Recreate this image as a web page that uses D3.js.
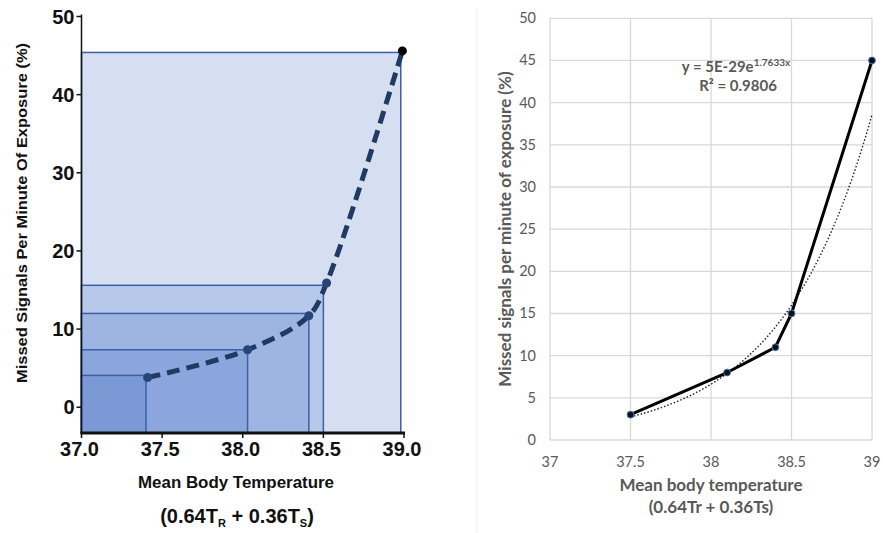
<!doctype html>
<html>
  <head>
    <title>Missed signals vs mean body temperature</title>
    <style>
      body { margin: 0; background: #fff; }
    </style>
  </head>
  <body>
    <svg width='883' height='533'></svg>

  <script src='https://d3js.org/d3.v7.min.js'></script>
  <script>
// Left panel: original figure
var leftTemps = [37.41, 38.03, 38.41, 38.52, 38.99];
var leftSignals = [3.8, 7.35, 11.7, 15.9, 45.6];
// nested shaded boxes, largest first
var boxRight = [38.98, 38.50, 38.41, 38.03, 37.40];
var boxTop = [45.4, 15.6, 12.0, 7.35, 4.07];
var boxFill = ['#d6dff2', '#b7c9eb', '#9fb5e1', '#8ba6dc', '#7a99d5'];
var leftXTicks = [37.0, 37.5, 38.0, 38.5, 39.0];
var leftYTicks = [0, 10, 20, 30, 40, 50];

// Right panel: Excel re-plot
var rightTemps = [37.5, 38.1, 38.4, 38.5, 39];
var rightSignals = [3, 8, 11, 15, 45];
var rightXTicks = [37, 37.5, 38, 38.5, 39];
var rightYTicks = [0, 5, 10, 15, 20, 25, 30, 35, 40, 45, 50];

var svg = d3.select('svg');

// ---------- left panel ----------
var lx = d3.scaleLinear().domain([37, 39]).range([81.5, 404]);
var ly = d3.scaleLinear().domain([-3.3, 50]).range([433, 16.5]);
var left = svg.append('g').attr('font-family', 'Liberation Sans, Arial, sans-serif');

boxRight.forEach(function(r, i) {
  left.append('rect')
    .attr('x', lx(37))
    .attr('y', ly(boxTop[i]))
    .attr('width', lx(r) - lx(37))
    .attr('height', ly(-3.3) - ly(boxTop[i]))
    .attr('fill', boxFill[i])
    .attr('stroke', '#3d5fa6')
    .attr('stroke-width', 1.5);
});

// axes
left.append('line')
  .attr('x1', lx(37)).attr('x2', lx(37))
  .attr('y1', ly(50) - 2).attr('y2', ly(-3.3))
  .attr('stroke', '#111').attr('stroke-width', 1.5);
left.append('line')
  .attr('x1', lx(37) - 1).attr('x2', lx(39) + 1)
  .attr('y1', ly(-3.3)).attr('y2', ly(-3.3))
  .attr('stroke', '#111').attr('stroke-width', 3);

leftYTicks.forEach(function(t) {
  left.append('line')
    .attr('x1', lx(37) - 5).attr('x2', lx(37))
    .attr('y1', ly(t)).attr('y2', ly(t))
    .attr('stroke', '#111').attr('stroke-width', 1.5);
  left.append('text')
    .attr('x', lx(37) - 7).attr('y', ly(t) + 7)
    .attr('text-anchor', 'end')
    .attr('font-size', 20)
    .attr('font-weight', 'bold')
    .attr('fill', '#111')
    .text(t);
});
leftXTicks.forEach(function(t) {
  left.append('line')
    .attr('x1', lx(t)).attr('x2', lx(t))
    .attr('y1', ly(-3.3)).attr('y2', ly(-3.3) + 5)
    .attr('stroke', '#111').attr('stroke-width', 1.5);
  left.append('text')
    .attr('x', lx(t) - 2).attr('y', 456)
    .attr('text-anchor', 'middle')
    .attr('font-size', 20)
    .attr('font-weight', 'bold')
    .attr('fill', '#111')
    .text(t.toFixed(1));
});

// dashed curve
var leftPts = leftTemps.map(function(t, i) { return [t, leftSignals[i]]; });
left.append('path')
  .attr('d', d3.line().x(function(d) { return lx(d[0]); }).y(function(d) { return ly(d[1]); })
    .curve(d3.curveCatmullRom.alpha(0.5))(leftPts))
  .attr('fill', 'none')
  .attr('stroke', '#203a62')
  .attr('stroke-width', 5)
  .attr('stroke-dasharray', '13,7');
left.selectAll('circle.lp').data(leftPts).enter().append('circle')
  .attr('cx', function(d) { return lx(d[0]); })
  .attr('cy', function(d) { return ly(d[1]); })
  .attr('r', 4.5)
  .attr('fill', function(d, i) { return i === leftPts.length - 1 ? '#000' : '#26467a'; });

// titles
left.append('text')
  .attr('transform', 'translate(27,213) rotate(-90)')
  .attr('text-anchor', 'middle')
  .attr('font-size', 15)
  .attr('font-weight', 'bold')
  .attr('fill', '#111')
  .attr('textLength', 340)
  .attr('lengthAdjust', 'spacingAndGlyphs')
  .text('Missed Signals Per Minute Of Exposure (%)');
left.append('text')
  .attr('x', 236).attr('y', 488)
  .attr('text-anchor', 'middle')
  .attr('font-size', 16)
  .attr('font-weight', 'bold')
  .attr('fill', '#111')
  .attr('textLength', 196)
  .attr('lengthAdjust', 'spacingAndGlyphs')
  .text('Mean Body Temperature');
var sub = left.append('text')
  .attr('x', 237).attr('y', 523)
  .attr('text-anchor', 'middle')
  .attr('font-size', 20)
  .attr('font-weight', 'bold')
  .attr('fill', '#111');
sub.append('tspan').text('(0.64T');
sub.append('tspan').attr('font-size', 11).attr('dy', 4).text('R');
sub.append('tspan').attr('dy', -4).text(' + 0.36T');
sub.append('tspan').attr('font-size', 11).attr('dy', 4).text('S');
sub.append('tspan').attr('dy', -4).text(')');

// ---------- right panel ----------
var rx = d3.scaleLinear().domain([37, 39]).range([550, 872]);
var ry = d3.scaleLinear().domain([0, 50]).range([440, 18.3]);
var right = svg.append('g').attr('font-family', 'Lato, Carlito, sans-serif');

right.append('line')
  .attr('x1', 477).attr('x2', 477).attr('y1', 8).attr('y2', 533)
  .attr('stroke', '#f2f2f2').attr('stroke-width', 1);

rightYTicks.forEach(function(t) {
  right.append('line')
    .attr('x1', rx(37)).attr('x2', rx(39))
    .attr('y1', ry(t)).attr('y2', ry(t))
    .attr('stroke', '#d9d9d9').attr('stroke-width', 1.3);
  right.append('text')
    .attr('x', 536).attr('y', ry(t) + 5)
    .attr('text-anchor', 'end')
    .attr('font-size', 14.5)
    .attr('fill', '#595959')
    .text(t);
});
rightXTicks.forEach(function(t) {
  right.append('line')
    .attr('x1', rx(t)).attr('x2', rx(t))
    .attr('y1', ry(0)).attr('y2', ry(50))
    .attr('stroke', '#d9d9d9').attr('stroke-width', 1.3);
  right.append('text')
    .attr('x', rx(t)).attr('y', 467)
    .attr('text-anchor', 'middle')
    .attr('font-size', 14.5)
    .attr('fill', '#595959')
    .text(t);
});

// exponential trendline fitted from the data (least squares on ln y)
var lnY = rightSignals.map(Math.log);
var mx = d3.mean(rightTemps), my = d3.mean(lnY);
var sxy = d3.sum(rightTemps, function(t, i) { return (t - mx) * (lnY[i] - my); });
var sxx = d3.sum(rightTemps, function(t) { return (t - mx) * (t - mx); });
var slope = sxy / sxx, icpt = my - slope * mx;
var trendX = d3.range(37.5, 39.0001, 0.02);
right.append('path')
  .attr('d', d3.line().x(function(t) { return rx(t); })
    .y(function(t) { return ry(Math.exp(icpt + slope * t)); })(trendX))
  .attr('fill', 'none')
  .attr('stroke', '#222')
  .attr('stroke-width', 1.4)
  .attr('stroke-dasharray', '1.5,2');

var rightPts = rightTemps.map(function(t, i) { return [t, rightSignals[i]]; });
right.append('path')
  .attr('d', d3.line().x(function(d) { return rx(d[0]); }).y(function(d) { return ry(d[1]); })(rightPts))
  .attr('fill', 'none')
  .attr('stroke', '#000')
  .attr('stroke-width', 3)
  .attr('stroke-linejoin', 'round');
right.selectAll('circle.rp').data(rightPts).enter().append('circle')
  .attr('cx', function(d) { return rx(d[0]); })
  .attr('cy', function(d) { return ry(d[1]); })
  .attr('r', 3.4)
  .attr('fill', '#111')
  .attr('stroke', '#4472c4')
  .attr('stroke-width', 1);

// equation label
var eq = right.append('text')
  .attr('x', 736).attr('y', 72)
  .attr('text-anchor', 'middle')
  .attr('font-size', 15)
  .attr('font-weight', 'bold')
  .attr('fill', '#595959');
eq.append('tspan').text('y = 5E-29e');
eq.append('tspan').attr('font-size', 10).attr('dy', -6).text('1.7633x');
right.append('text')
  .attr('x', 738).attr('y', 91)
  .attr('text-anchor', 'middle')
  .attr('font-size', 15)
  .attr('font-weight', 'bold')
  .attr('fill', '#595959')
  .text('R\u00b2 = 0.9806');

right.append('text')
  .attr('transform', 'translate(511,229) rotate(-90)')
  .attr('text-anchor', 'middle')
  .attr('font-size', 17)
  .attr('font-weight', 'bold')
  .attr('fill', '#595959')
  .text('Missed signals per minute of exposure (%)');
right.append('text')
  .attr('x', 711).attr('y', 491)
  .attr('text-anchor', 'middle')
  .attr('font-size', 17)
  .attr('font-weight', 'bold')
  .attr('fill', '#595959')
  .text('Mean body temperature');
right.append('text')
  .attr('x', 711).attr('y', 513)
  .attr('text-anchor', 'middle')
  .attr('font-size', 17)
  .attr('font-weight', 'bold')
  .attr('fill', '#595959')
  .text('(0.64Tr + 0.36Ts)');
  </script>
  </body>
</html>
